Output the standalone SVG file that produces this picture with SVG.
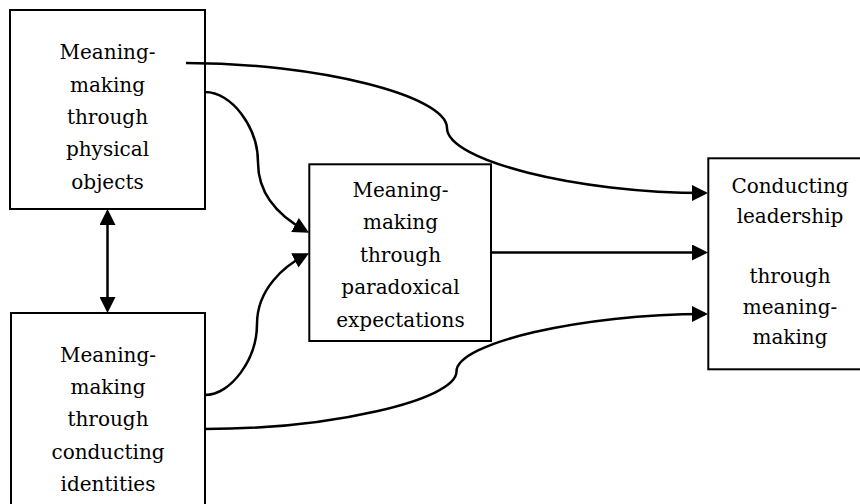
<svg xmlns="http://www.w3.org/2000/svg" width="860" height="504" viewBox="0 0 860 504">
  <style>
    .box { fill: none; stroke: #000000; stroke-width: 2; }
    .label { font-family: "DejaVu Serif", "Liberation Serif", serif; font-size: 20px; fill: #000000; text-anchor: middle; }
    .link { fill: none; stroke: #000000; stroke-width: 2.5; }
  </style>
  <defs>
    <marker id="arrow" markerUnits="userSpaceOnUse" markerWidth="16" markerHeight="16" viewBox="0 0 16 16" refX="13" refY="8" orient="auto-start-reverse">
      <path d="M0,0 L16,8 L0,16 z" fill="#000000"/>
    </marker>
  </defs>
  <rect width="860" height="504" fill="#ffffff"/>

  <g id="node-physical-objects">
    <rect class="box" x="10" y="10" width="195" height="199"/>
    <text class="label" x="107.5" y="59.3">Meaning-</text>
    <text class="label" x="107.5" y="91.6">making</text>
    <text class="label" x="107.5" y="123.9">through</text>
    <text class="label" x="107.5" y="156.2">physical</text>
    <text class="label" x="107.5" y="188.5">objects</text>
  </g>

  <g id="node-conducting-identities">
    <rect class="box" x="11" y="313" width="194" height="200"/>
    <text class="label" x="108" y="361.7">Meaning-</text>
    <text class="label" x="108" y="394">making</text>
    <text class="label" x="108" y="426.3">through</text>
    <text class="label" x="108" y="458.6">conducting</text>
    <text class="label" x="108" y="490.9">identities</text>
  </g>

  <g id="node-paradoxical-expectations">
    <rect class="box" x="309.3" y="164.3" width="181.7" height="176.7"/>
    <text class="label" x="400.5" y="196.7">Meaning-</text>
    <text class="label" x="400.5" y="229.2">making</text>
    <text class="label" x="400.5" y="261.7">through</text>
    <text class="label" x="400.5" y="294.2">paradoxical</text>
    <text class="label" x="400.5" y="326.7">expectations</text>
  </g>

  <g id="node-conducting-leadership">
    <rect class="box" x="708.3" y="158.3" width="170" height="211"/>
    <text class="label" x="790" y="193.3">Conducting</text>
    <text class="label" x="790" y="223.3">leadership</text>
    <text class="label" x="790" y="283.3">through</text>
    <text class="label" x="790" y="313.5">meaning-</text>
    <text class="label" x="790" y="344">making</text>
  </g>

  <g id="connectors">
    <!-- physical objects -> conducting leadership (starts inside its box) -->
    <path class="link" d="M186,63 C316,63 447,95.5 447,128 C447,160.5 577,193 705,193" marker-end="url(#arrow)"/>
    <!-- physical objects -> paradoxical expectations -->
    <path class="link" d="M205,92 C231.5,92 258,127 258,162.5 C258,198 284,219 306.4,231.2" marker-end="url(#arrow)"/>
    <!-- conducting identities -> paradoxical expectations -->
    <path class="link" d="M205,395 C231,395 257,359 257,324 C257,289 284,266 306.4,254.5" marker-end="url(#arrow)"/>
    <!-- paradoxical expectations -> conducting leadership -->
    <path class="link" d="M491,252.5 H705" marker-end="url(#arrow)"/>
    <!-- conducting identities -> conducting leadership -->
    <path class="link" d="M205,429 C330.75,429 456.5,400 456.5,371.5 C456.5,343 582,314 705,314" marker-end="url(#arrow)"/>
    <!-- two-way link between the left boxes -->
    <path class="link" d="M107.5,212 V310" marker-start="url(#arrow)" marker-end="url(#arrow)"/>
  </g>
</svg>
